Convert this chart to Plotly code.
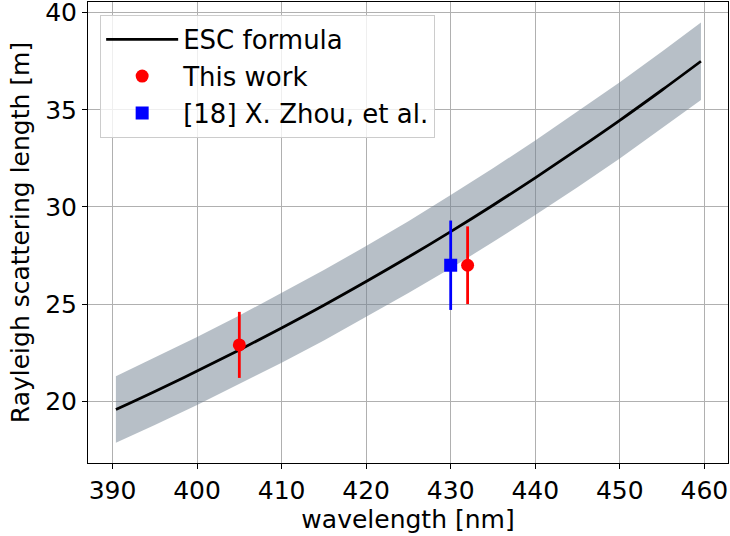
import plotly.graph_objects as go

# ESC formula curve
wavelength = [390.4, 395, 400, 405, 410, 415, 420, 425, 430, 435, 440, 445, 450, 455, 459.6]
esc_length = [19.57, 20.50, 21.55, 22.64, 23.77, 24.94, 26.16, 27.42, 28.73, 30.09, 31.50, 32.96, 34.46, 36.02, 37.50]
esc_lower = [17.86, 18.77, 19.80, 20.87, 21.98, 23.13, 24.33, 25.57, 26.85, 28.19, 29.58, 31.02, 32.50, 34.04, 35.50]
esc_upper = [21.28, 22.23, 23.30, 24.41, 25.56, 26.75, 27.99, 29.27, 30.61, 31.99, 33.42, 34.90, 36.42, 38.00, 39.50]

# This work
this_x = [405, 432]
this_y = [22.9, 27.0]
this_err = [1.7, 2.0]

# [18] X. Zhou, et al.
zhou_x = [430]
zhou_y = [27.0]
zhou_err = [2.3]

x_ticks = [390, 400, 410, 420, 430, 440, 450, 460]
y_ticks = [20, 25, 30, 35, 40]

FONT = "DejaVu Sans"
FS = 25

fig = go.Figure()

fig.add_trace(go.Scatter(
    x=wavelength + wavelength[::-1],
    y=esc_upper + esc_lower[::-1],
    fill="toself", fillcolor="rgba(112,128,144,0.5)",
    line=dict(width=0), mode="lines", showlegend=False, hoverinfo="skip"))

fig.add_trace(go.Scatter(
    x=wavelength, y=esc_length, mode="lines", name="ESC formula",
    line=dict(color="black", width=2.8, shape="spline"), legendrank=1))

fig.add_trace(go.Scatter(
    x=zhou_x, y=zhou_y, mode="markers", name="[18] X. Zhou, et al.",
    marker=dict(symbol="square", size=13, color="#0000ff"),
    error_y=dict(type="data", array=zhou_err, color="#0000ff", thickness=2.8, width=0),
    legendrank=3))

fig.add_trace(go.Scatter(
    x=this_x, y=this_y, mode="markers", name="This work",
    marker=dict(symbol="circle", size=13, color="#ff0000"),
    error_y=dict(type="data", array=this_err, color="#ff0000", thickness=2.8, width=0),
    legendrank=2))

axis_common = dict(
    showline=True, linecolor="black", linewidth=1.1, mirror=True,
    ticks="outside", ticklen=5, tickwidth=1.1, tickcolor="black",
    showgrid=True, gridcolor="#b0b0b0", gridwidth=1.1, zeroline=False,
    tickfont=dict(family=FONT, size=FS, color="black"),
    automargin=False, ticklabeloverflow="allow",
)

fig.update_layout(
    width=730, height=536,
    margin=dict(l=88, r=2, t=2, b=73),
    paper_bgcolor="white", plot_bgcolor="white",
    font=dict(family=FONT, size=FS, color="black"),
    xaxis=dict(range=[387.1, 462.8], tickvals=x_ticks,
               title=dict(text="wavelength [nm]", font=dict(family=FONT, size=FS), standoff=2),
               **axis_common),
    yaxis=dict(range=[16.82, 40.55], tickvals=y_ticks,
               title=dict(text="Rayleigh scattering length [m]", font=dict(family=FONT, size=FS), standoff=8),
               **axis_common),
    legend=dict(x=0.019, y=0.972, xanchor="left", yanchor="top",
                bgcolor="rgba(255,255,255,0.8)", bordercolor="#cccccc", borderwidth=1,
                font=dict(family=FONT, size=26), itemwidth=72),
    showlegend=True,
)

fig.write_html(
    "out.html",
    config={"displayModeBar": False},
    post_script="document.body.style.margin='0';document.body.style.overflow='hidden';",
)
